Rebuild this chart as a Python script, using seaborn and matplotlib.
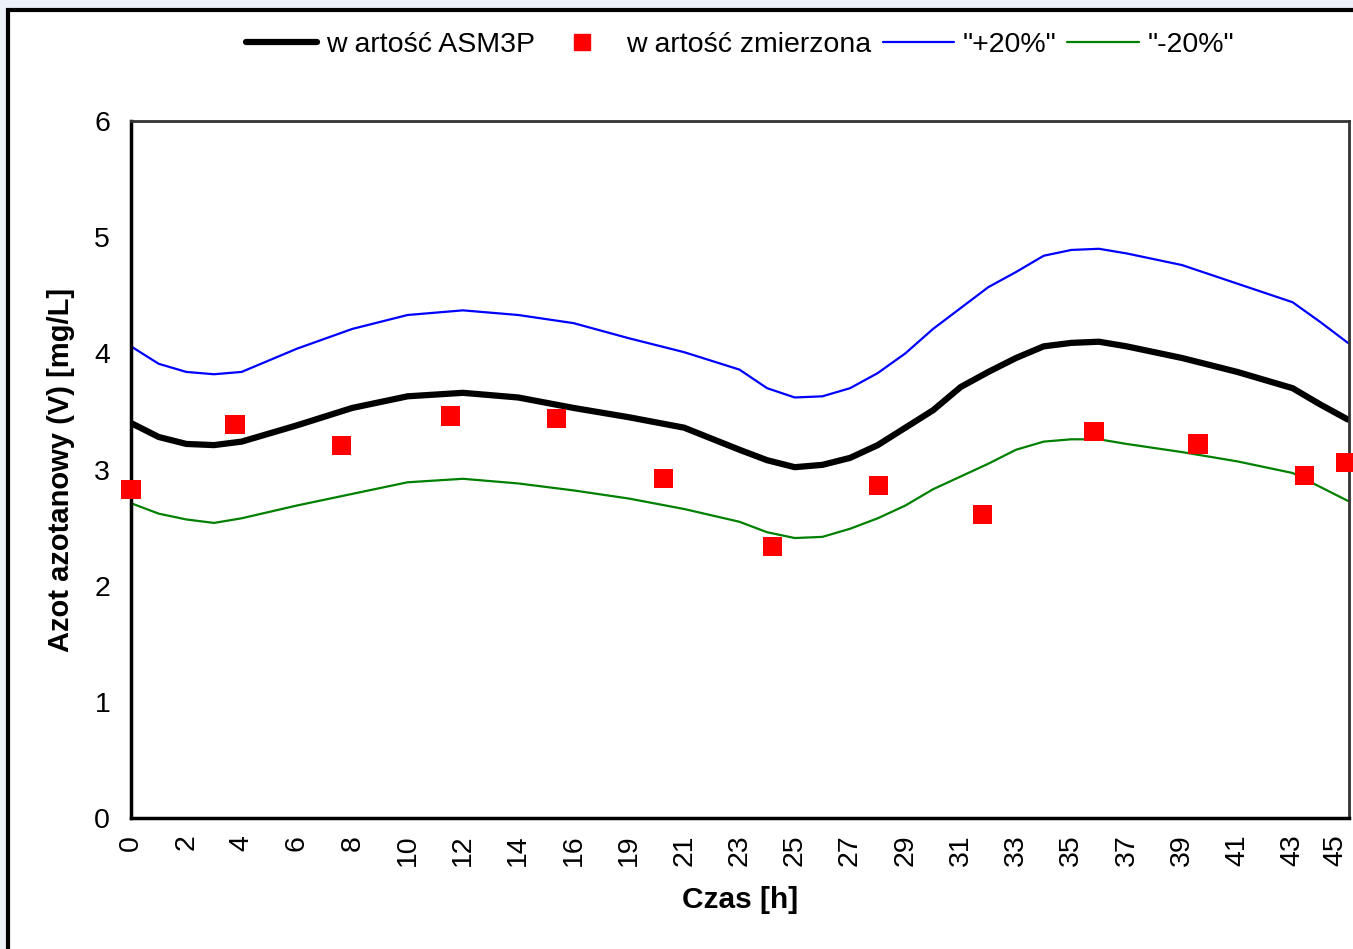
import numpy as np
import pandas as pd
import matplotlib
matplotlib.use("Agg")
import matplotlib.pyplot as plt
import seaborn as sns
from matplotlib.patches import Rectangle
from matplotlib.lines import Line2D

# x axis is a category axis: tick labels are hours, positions are equally spaced
hour_labels = ["0", "2", "4", "6", "8", "10", "12", "14", "16", "19", "21", "23",
               "25", "27", "29", "31", "33", "35", "37", "39", "41", "43", "45"]

# sampled positions along the category axis (units = tick spacing)
pos = [0, 0.5, 1, 1.5, 2, 3, 4, 5, 6, 7, 8, 9, 10, 11, 11.5, 12, 12.5, 13, 13.5,
       14, 14.5, 15, 15.5, 16, 16.5, 17, 17.5, 18, 19, 20, 21, 21.5, 22]

asm3p = [3.40, 3.28, 3.22, 3.21, 3.24, 3.38, 3.53, 3.63, 3.66, 3.62, 3.53, 3.45,
         3.36, 3.17, 3.08, 3.02, 3.04, 3.10, 3.21, 3.36, 3.51, 3.71, 3.84, 3.96,
         4.06, 4.09, 4.10, 4.06, 3.96, 3.84, 3.70, 3.56, 3.43]
plus20 = [4.06, 3.91, 3.84, 3.82, 3.84, 4.04, 4.21, 4.33, 4.37, 4.33, 4.26, 4.13,
          4.01, 3.86, 3.70, 3.62, 3.63, 3.70, 3.83, 4.00, 4.21, 4.39, 4.57, 4.70,
          4.84, 4.89, 4.90, 4.86, 4.76, 4.60, 4.44, 4.27, 4.09]
minus20 = [2.71, 2.62, 2.57, 2.54, 2.58, 2.69, 2.79, 2.89, 2.92, 2.88, 2.82, 2.75,
           2.66, 2.55, 2.46, 2.41, 2.42, 2.49, 2.58, 2.69, 2.83, 2.94, 3.05, 3.17,
           3.24, 3.26, 3.26, 3.22, 3.15, 3.07, 2.97, 2.85, 2.73]

meas_pos = [0, 1.88, 3.81, 5.78, 7.70, 9.62, 11.59, 13.52, 15.40, 17.41, 19.29, 21.21, 21.96]
meas_val = [2.83, 3.39, 3.21, 3.46, 3.44, 2.92, 2.34, 2.86, 2.61, 3.33, 3.22, 2.95, 3.06]

sns.set_style("white")
plt.rcParams["font.family"] = ["Liberation Sans", "DejaVu Sans"]
plt.rcParams["text.color"] = "black"

fig = plt.figure(figsize=(13.53, 9.49), dpi=100, facecolor="#edf1f8")
# chart area box, drawn behind the axes
fig.patches.append(Rectangle((8 / 1353, -0.01), 1.02, 1 - 10 / 949 + 0.01,
                             transform=fig.transFigure, facecolor="white",
                             edgecolor="black", linewidth=3, zorder=-10))

ax = fig.add_axes([131 / 1353, 1 - 818 / 949, (1349 - 131) / 1353, (818 - 121) / 949])
ax.set_zorder(2)
ax.set_facecolor("white")

sns.lineplot(x=pos, y=plus20, color="#0000ff", linewidth=1.6, ax=ax, legend=False)
sns.lineplot(x=pos, y=minus20, color="#008000", linewidth=1.6, ax=ax, legend=False)
sns.lineplot(x=pos, y=asm3p, color="black", linewidth=4.5, ax=ax, legend=False)
sns.scatterplot(x=meas_pos, y=meas_val, color="#ff0000", marker="s", s=190,
                edgecolor="none", ax=ax, legend=False, zorder=5, clip_on=False)

ax.set_xlim(0, 22.02)
ax.set_ylim(0, 6)
ax.set_xticks(range(len(hour_labels)))
ax.set_xticklabels(hour_labels, rotation=90)
ax.get_xticklabels()[-1].set_horizontalalignment("right")
ax.set_yticks(range(7))
ax.tick_params(axis="both", direction="out", length=7, width=2, labelsize=20.5,
               color="black", labelcolor="black")
ax.tick_params(axis="x", pad=5)
ax.tick_params(axis="y", pad=8)

for side in ["left", "bottom"]:
    ax.spines[side].set_color("black")
    ax.spines[side].set_linewidth(2.5)
for side in ["top", "right"]:
    ax.spines[side].set_visible(True)
    ax.spines[side].set_color("#333333")
    ax.spines[side].set_linewidth(2)

ax.set_xlabel("Czas [h]", fontsize=21.5, fontweight="bold", labelpad=14, color="black")
ax.set_ylabel("Azot azotanowy (V) [mg/L]", fontsize=21, fontweight="bold", labelpad=14,
              color="black")

handles = [
    Line2D([], [], color="black", linewidth=4.5),
    Line2D([], [], color="#ff0000", marker="s", linestyle="none", markersize=11),
    Line2D([], [], color="#0000ff", linewidth=1.6),
    Line2D([], [], color="#008000", linewidth=1.6),
]
labels = ["w artość ASM3P", "w artość zmierzona", "\"+20%\"", "\"-20%\""]
leg = fig.legend(handles, labels, loc="center", bbox_to_anchor=(740 / 1353, 1 - 45 / 949),
                 ncol=4, frameon=False, fontsize=20.5, handlelength=2.5, handletextpad=0.3,
                 columnspacing=0.4)
for t in leg.get_texts():
    t.set_color("black")

fig.savefig("out.png", dpi=100, facecolor=fig.get_facecolor())
